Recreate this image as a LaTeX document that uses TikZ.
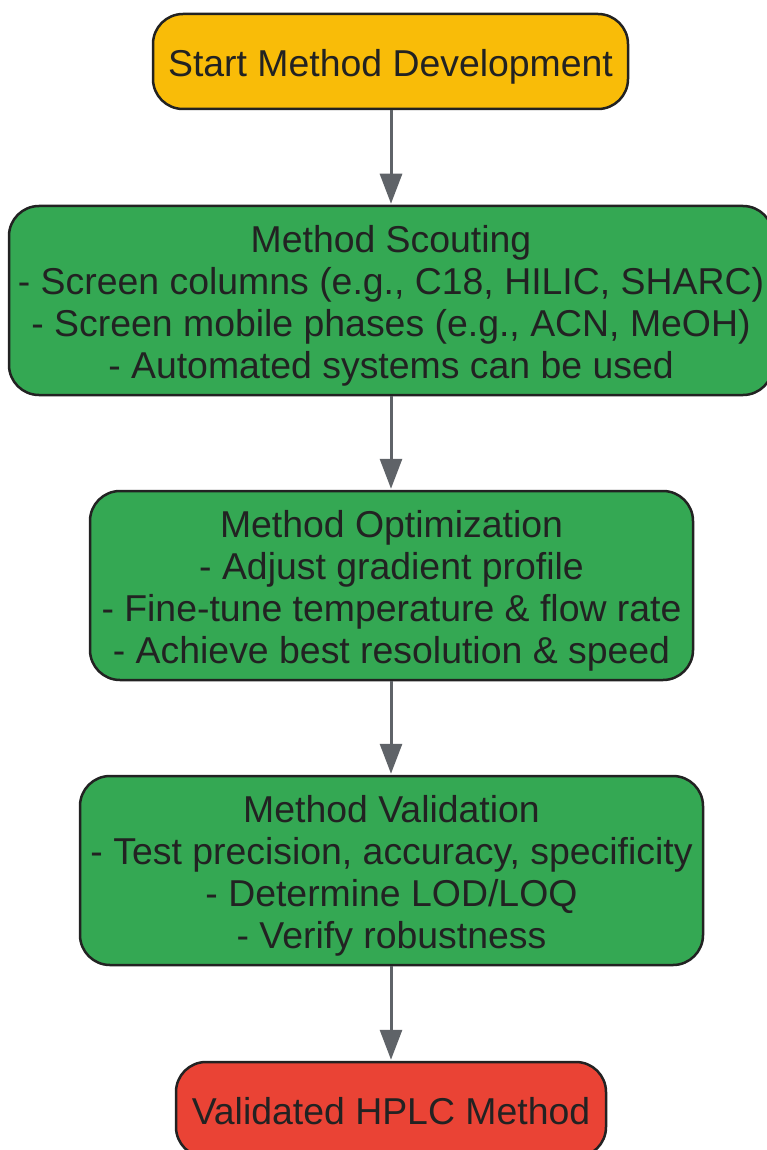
\documentclass[tikz,border=0pt]{standalone}
\usepackage{fontspec}
\setmainfont{Liberation Sans}
\usetikzlibrary{arrows.meta}
\definecolor{cyellow}{HTML}{F9BC08}
\definecolor{cgreen}{HTML}{34A853}
\definecolor{cred}{HTML}{EA4335}
\definecolor{cborder}{HTML}{222222}
\definecolor{carrow}{HTML}{5F6368}
\newcommand\toppad{\rule{0pt}{38pt}}
\newcommand\botpad{\rule[-8pt]{0pt}{8pt}}
\tikzset{
  box/.style={draw=cborder, line width=2.5pt, rounded corners=30pt, align=center,
    text=cborder, inner sep=0pt, font=\fontsize{37.4}{42}\selectfont},
  conn/.style={draw=carrow, line width=3pt, -{Triangle[width=22pt,length=30pt]}, shorten >=1pt}
}
\begin{document}
\begin{tikzpicture}[x=1pt,y=-1pt]
\useasboundingbox (0,0) rectangle (766,1150);
\node[box, fill=cyellow, minimum width=475pt, minimum height=95pt] (start) at (390.5,61.5) {\toppad Start Method Development};
\node[box, fill=cgreen, minimum width=764pt, minimum height=189pt] (scout) at (391,300.5) {\toppad Method Scouting\\- Screen columns (e.g., C18, HILIC, SHARC)\\- Screen mobile phases (e.g., ACN, MeOH)\\- Automated systems can be used};
\node[box, fill=cgreen, minimum width=603pt, minimum height=189pt] (opt) at (391.5,585.5) {\toppad Method Optimization\\- Adjust gradient profile\\- Fine-tune temperature \& flow rate\\- Achieve best resolution \& speed};
\node[box, fill=cgreen, minimum width=623pt, minimum height=189pt] (val) at (391.5,870.5) {\toppad Method Validation\\- Test precision, accuracy, specificity\\- Determine LOD/LOQ\\- Verify robustness};
\node[box, fill=cred, minimum width=430pt, minimum height=95pt] (final) at (391,1109.5) {\toppad Validated HPLC Method\botpad};
\draw[conn] (start.south -| 391,0) -- (scout.north);
\draw[conn] (scout.south) -- (opt.north -| scout.south);
\draw[conn] (opt.south -| scout.south) -- (val.north -| scout.south);
\draw[conn] (val.south -| scout.south) -- (final.north);
\end{tikzpicture}
\end{document}
